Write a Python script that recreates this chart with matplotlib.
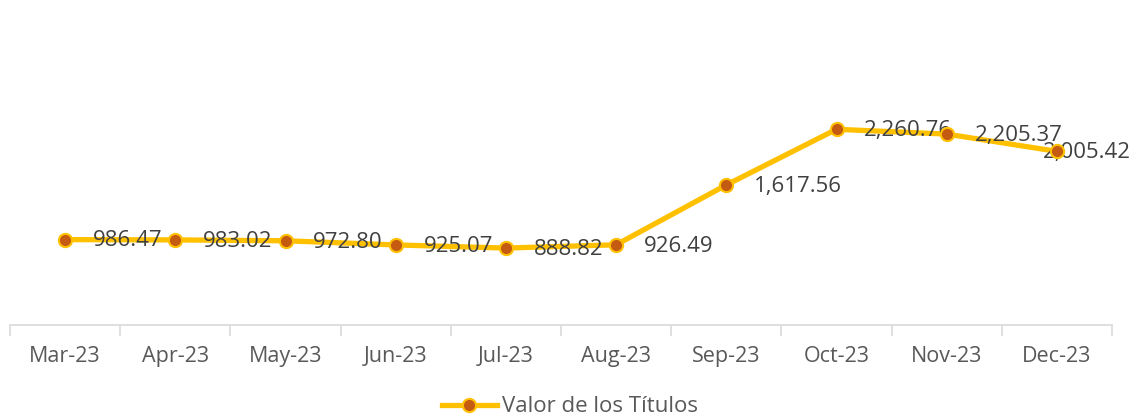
import matplotlib
matplotlib.use("Agg")
import matplotlib.pyplot as plt
from matplotlib.lines import Line2D

categories = ["Mar-23", "Apr-23", "May-23", "Jun-23", "Jul-23", "Aug-23",
              "Sep-23", "Oct-23", "Nov-23", "Dec-23"]
values = [986.47, 983.02, 972.80, 925.07, 888.82, 926.49,
          1617.56, 2260.76, 2205.37, 2005.42]
series_name = "Valor de los Títulos"

LINE = "#FFC000"
MARK = "#C55A11"
plt.rcParams['font.family'] = ['Open Sans', 'DejaVu Sans']

fig = plt.figure(figsize=(11.39, 4.2), dpi=100)
ax = fig.add_axes([10/1139, 95/420, 1102/1139, (325-22)/420])

x = list(range(len(categories)))
ax.plot(x, values, color=LINE, lw=3.8, solid_capstyle='round', zorder=3)
ax.plot(x, values, linestyle='none', marker='o', ms=9.5,
        markerfacecolor=MARK, markeredgecolor=LINE, markeredgewidth=1.5, zorder=5)
labels = []
for xi, v in zip(x, values):
    t = ax.annotate(f"{v:,.2f}", (xi, v), xytext=(20, -1), textcoords='offset points',
                    ha='left', va='center', fontsize=16, color='#404040', zorder=4)
    labels.append(t)

ax.set_xlim(-0.5, len(categories) - 0.5)
ax.set_ylim(0, 3500)
ax.set_yticks([])
ax.set_xticks([i - 0.5 for i in range(len(categories) + 1)], minor=False)
ax.set_xticklabels([])
ax.set_xticks(x, minor=True)
ax.set_xticklabels(categories, minor=True)
ax.tick_params(axis='x', which='major', length=8, width=1.2, color='#D9D9D9', direction='out')
ax.tick_params(axis='x', which='minor', length=0, pad=15, labelsize=15.5, labelcolor='#595959')
for s in ['top', 'right', 'left']:
    ax.spines[s].set_visible(False)
ax.spines['bottom'].set_color('#D9D9D9')
ax.spines['bottom'].set_linewidth(1.2)

handle = Line2D([0], [0], color=LINE, lw=3.8, marker='o', ms=9.5,
                markerfacecolor=MARK, markeredgecolor=LINE, markeredgewidth=1.5)
fig.legend([handle], [series_name], loc='center', bbox_to_anchor=(0.5, 1 - 407/420),
           frameon=False, fontsize=16, labelcolor='#595959', handlelength=2.5,
           handletextpad=0.2)

# keep data labels inside the chart area (as the spreadsheet does)
fig.canvas.draw()
renderer = fig.canvas.get_renderer()
limit = 1131
for t in labels:
    bb = t.get_window_extent(renderer)
    if bb.x1 > limit:
        shift = (bb.x1 - limit) * 72 / fig.dpi
        ox, oy = t.xyann
        t.xyann = (ox - shift, oy)

fig.savefig("out.png", dpi=100)
